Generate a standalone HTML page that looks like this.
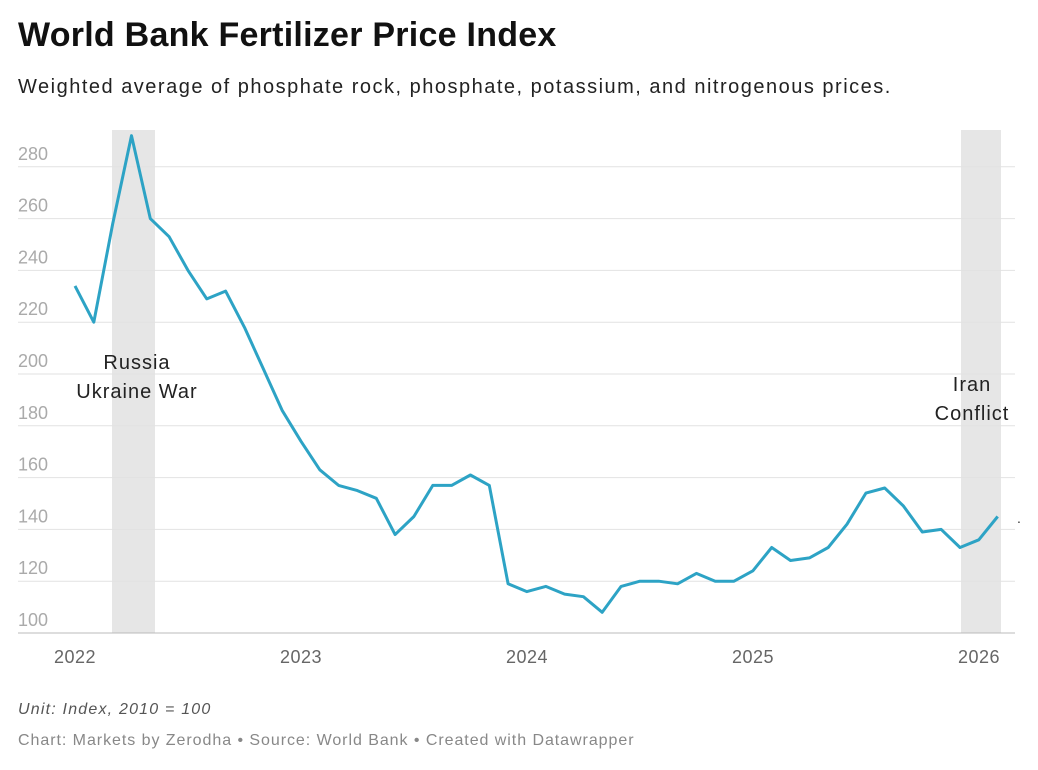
<!DOCTYPE html>
<html><head><meta charset="utf-8"><style>
body{margin:0;background:#fff;width:1038px;height:770px;overflow:hidden;font-family:"Liberation Sans",sans-serif;}
.t{position:absolute;left:18px;top:16px;font-size:34px;font-weight:bold;color:#111;letter-spacing:0.25px}
.s{position:absolute;left:18px;top:76px;font-size:20px;color:#222;letter-spacing:1.5px}
.u{position:absolute;left:18px;top:701px;font-size:16px;font-style:italic;color:#555;letter-spacing:1.2px}
.c{position:absolute;left:18px;top:732px;font-size:16px;color:#888;letter-spacing:0.95px}
svg{position:absolute;left:0;top:0}
</style></head><body>
<div class="t">World Bank Fertilizer Price Index</div>
<div class="s">Weighted average of phosphate rock, phosphate, potassium, and nitrogenous prices.</div>
<svg width="1038" height="770" id="g" font-family="Liberation Sans, sans-serif">
<rect x="112" y="130" width="43" height="503" fill="#e6e6e6"/>
<rect x="961" y="130" width="40" height="503" fill="#e6e6e6"/>
<g id="grid"></g>
<polyline id="ln" fill="none" stroke="#2da3c5" stroke-width="3" stroke-linejoin="round"/>
<g font-size="20" text-anchor="middle" fill="#222" letter-spacing="1">
<text x="137" y="369">Russia</text>
<text x="137" y="398">Ukraine War</text>
<text x="972" y="391">Iran</text>
<text x="972" y="420">Conflict</text>
</g>
<text x="1017" y="523" font-size="14" fill="#333">.</text>
<g font-size="18" fill="#666" text-anchor="middle" letter-spacing="0.5">
<text x="75" y="663">2022</text><text x="301" y="663">2023</text><text x="527" y="663">2024</text><text x="753" y="663">2025</text><text x="979" y="663">2026</text>
</g>
</svg>
<div class="u">Unit: Index, 2010 = 100</div>
<div class="c">Chart: Markets by Zerodha • Source: World Bank • Created with Datawrapper</div>
<script>
var Y=v=>633-(v-100)*2.59, ns="http://www.w3.org/2000/svg", g=document.getElementById("grid");
for(var v=100;v<=280;v+=20){var l=document.createElementNS(ns,"line");l.setAttribute("x1",18);l.setAttribute("x2",1015);l.setAttribute("y1",Y(v));l.setAttribute("y2",Y(v));l.setAttribute("stroke",v==100?"#bbb":"#e2e2e2");l.setAttribute("stroke-width",1);g.appendChild(l);
var t=document.createElementNS(ns,"text");t.setAttribute("x",18);t.setAttribute("y",Y(v)-7);t.setAttribute("font-size",18);t.setAttribute("fill","#aaa");t.textContent=v;g.appendChild(t);}
var d=[234,220,258,292,260,253,240,229,232,218,202,186,174,163,157,155,152,138,145,157,157,161,157,119,116,118,115,114,108,118,120,120,119,123,120,120,124,133,128,129,133,142,154,156,149,139,140,133,136,145];
document.getElementById("ln").setAttribute("points",d.map((v,i)=>(75+i*18.83).toFixed(1)+","+Y(v).toFixed(1)).join(" "));
</script>
</body></html>
